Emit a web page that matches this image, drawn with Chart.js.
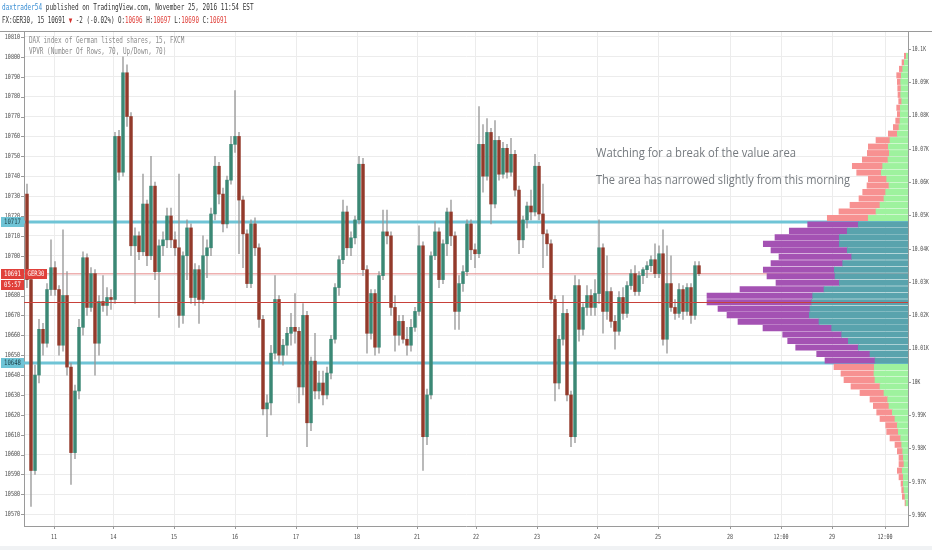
<!DOCTYPE html>
<html>
<head>
<meta charset="utf-8">
<script src="https://cdn.jsdelivr.net/npm/chart.js@4.4.0/dist/chart.umd.min.js"></script>
<style>
  html, body { margin: 0; padding: 0; background: #fff; }
  canvas { display: block; }
</style>
</head>
<body>
<canvas id="chart" width="932" height="550"></canvas>
<script>
// GER30 15m candles (one bar per ~hour slot)
const opens = [10731,10688,10592,10640,10663,10656,10683,10694,10683,10655,10680,10644,10601,10632,10664,10699,10674,10691,10656,10677,
  10675,10679,10678,10760,10742,10792,10770,10705,10710,10702,10726,10700,10735,10692,10705,10708,10720,10708,10704,10670,
  10700,10714,10679,10693,10678,10700,10704,10721,10745,10731,10716,10738,10756,10760,10728,10711,10686,10716,10704,10668,
  10623,10626,10651,10678,10650,10655,10661,10664,10662,10634,10670,10616,10647,10632,10636,10630,10641,10658,10684,10698,
  10722,10704,10709,10718,10746,10693,10661,10681,10654,10690,10712,10710,10674,10660,10667,10658,10655,10664,10672,10705,
  10609,10630,10700,10712,10688,10706,10722,10710,10672,10686,10692,10716,10703,10701,10756,10740,10762,10726,10758,10741,
  10754,10742,10751,10733,10708,10718,10725,10722,10745,10721,10711,10706,10678,10636,10658,10671,10630,10609,10685,10663,
  10674,10680,10674,10681,10704,10672,10682,10667,10662,10679,10671,10685,10691,10682,10690,10693,10695,10698,10691,10701,
  10658,10686,10674,10671,10683,10672,10684,10670,10695];
const highs = [10736,10690,10645,10668,10666,10686,10708,10697,10685,10713,10692,10646,10635,10668,10702,10701,10694,10693,10680,10690,
  10684,10683,10762,10763,10800,10796,10772,10714,10712,10741,10728,10750,10737,10708,10712,10724,10724,10712,10741,10702,
  10718,10716,10696,10695,10710,10708,10724,10750,10747,10734,10740,10760,10783,10762,10730,10713,10718,10719,10706,10670,
  10630,10655,10690,10680,10658,10664,10671,10681,10664,10676,10672,10649,10661,10642,10642,10644,10660,10686,10700,10728,
  10725,10712,10720,10750,10749,10695,10683,10683,10692,10723,10723,10712,10680,10670,10670,10664,10668,10674,10715,10707,
  10633,10702,10717,10714,10708,10724,10728,10712,10690,10695,10718,10718,10706,10775,10766,10769,10764,10768,10760,10757,
  10756,10759,10753,10735,10720,10727,10733,10751,10747,10736,10713,10708,10680,10660,10680,10673,10632,10690,10688,10676,
  10685,10683,10688,10718,10706,10700,10684,10670,10682,10684,10687,10693,10695,10692,10694,10697,10700,10706,10705,10713,
  10705,10700,10678,10686,10685,10686,10686,10697,10697];
const lows = [10684,10574,10590,10636,10650,10654,10680,10680,10650,10652,10640,10585,10598,10628,10660,10670,10672,10640,10650,10672,
  10670,10673,10676,10738,10740,10765,10700,10676,10698,10700,10695,10698,10688,10669,10700,10704,10704,10700,10664,10666,
  10688,10676,10675,10666,10676,10689,10700,10718,10726,10712,10714,10736,10752,10701,10694,10684,10684,10700,10664,10620,
  10609,10620,10648,10646,10645,10650,10655,10656,10626,10630,10604,10612,10628,10628,10625,10628,10638,10656,10680,10696,
  10700,10700,10706,10716,10690,10651,10658,10650,10651,10688,10706,10670,10652,10655,10656,10650,10652,10662,10670,10592,
  10605,10628,10698,10684,10686,10700,10705,10663,10663,10682,10690,10698,10694,10699,10732,10738,10716,10724,10738,10739,
  10739,10740,10730,10701,10704,10714,10718,10720,10718,10694,10700,10676,10627,10633,10655,10627,10604,10606,10657,10660,
  10670,10670,10670,10676,10661,10668,10664,10653,10660,10668,10669,10683,10680,10680,10686,10689,10692,10689,10689,10655,
  10651,10672,10668,10669,10668,10670,10666,10668,10690];
const closes = [10688,10592,10640,10663,10656,10683,10694,10683,10655,10680,10644,10601,10632,10664,10699,10674,10691,10656,10677,10675,
  10679,10678,10760,10742,10792,10770,10705,10710,10702,10726,10700,10735,10692,10705,10708,10720,10708,10704,10670,10700,
  10714,10679,10693,10678,10700,10704,10721,10745,10731,10716,10738,10756,10760,10728,10711,10686,10716,10704,10668,10623,
  10626,10651,10678,10650,10655,10661,10664,10662,10634,10670,10616,10647,10632,10636,10630,10641,10658,10684,10698,10722,
  10704,10709,10718,10746,10693,10661,10681,10654,10690,10712,10710,10674,10660,10667,10658,10655,10664,10672,10705,10609,
  10630,10700,10712,10688,10706,10722,10710,10672,10686,10692,10716,10703,10701,10756,10740,10762,10726,10758,10741,10754,
  10742,10751,10733,10708,10718,10725,10722,10745,10721,10711,10706,10678,10636,10658,10671,10630,10609,10685,10663,10674,
  10680,10674,10681,10704,10672,10682,10667,10662,10679,10671,10685,10691,10682,10690,10693,10695,10698,10691,10701,10658,
  10686,10674,10671,10683,10672,10684,10670,10695,10691];

// Volume profile, 70 rows from top to bottom (up part / down part)
const upVol = [1.7,3.7,5.3,6.7,7.3,7.0,7.3,6.3,7.7,7.7, 8.0,9.0,10.7,18.0,19.7,18.7,20.0,25.3,26.7,21.3,
  19.0,22.3,24.0,28.0,32.0,39.7,49.7,60.7,68.7,68.7, 60.7,56.3,65.3,73.7,73.0,68.7,84.0,95.3,96.3,98.0,
  98.7,89.0,76.3,66.3,59.7,49.7,38.0,33.0,33.7,34.0, 33.0,28.0,24.0,20.3,19.0,15.7,13.0,10.7,9.7,7.3,
  6.3,5.3,4.7,4.0,5.7,4.7,4.7,4.0,3.0,2.0];
const downVol = [2.0,2.3,3.4,4.6,3.4,3.3,2.7,3.0,3.6,3.0, 4.3,5.7,9.0,14.0,20.0,22.0,25.7,30.4,24.6,18.4,
  22.0,23.0,25.0,30.0,37.0,41.0,50.6,58.0,64.3,76.0, 76.3,72.7,71.7,71.0,68.0,63.3,84.0,105.7,104.7,92.0,
  82.3,81.0,68.7,59.0,60.6,62.6,53.3,50.0,40.3,33.0, 31.0,29.0,24.0,17.7,15.7,15.6,15.0,11.6,11.6,10.7,
  6.7,5.4,4.3,5.0,5.0,4.3,2.3,2.3,2.7,1.0];
const profileHigh = 10802.1;
const profileLow = 10574.0;

// levels
const vaHigh = 10717;
const vaLow = 10646;
const pocPrice = 10676.5;
const lastPrice = 10691;

// axes
const priceTicks = [10570,10580,10590,10600,10610,10620,10630,10640,10650,10660,10670,10680,10690,
  10700,10710,10720,10730,10740,10750,10760,10770,10780,10790,10800,10810];
const rightTicks = [9960,9970,9980,9990,10000,10010,10020,10030,10040,10050,10060,10070,10080,10090,10100];
const dayTickPos = [6.75, 21.6, 36.75, 52, 67.25, 82.5, 97.5, 112.25, 127.5, 142.5, 157.75, 175.75, 188.5, 201.25, 214.5];
const dayTickLabels = ['11','14','15','16','17','18','21','22','23','24','25','28','12:00','29','12:00'];

const upColor = '#3b8875';
const downColor = '#933a2b';
const wickColor = 'rgba(150,150,150,0.8)';
const vaUp = '#59a3ad';
const vaDown = '#a452b3';
const outUp = '#9ef29e';
const outDown = '#f79191';
const vaLineColor = '#6fc4d6';
const pocColor = '#c8413a';
const lastLineColor = 'rgba(232,150,150,0.75)';
const gridColor = '#ececec';
const axisColor = '#9a9a9a';
const textRed = '#e0403a';

const rowStep = (profileHigh - profileLow) / upVol.length;
const rowPrices = upVol.map((v, k) => profileHigh - (k + 0.5) * rowStep);
const inVA = p => p >= vaLow && p <= vaHigh;

function drawText(ctx, parts, x, y, size, sx, align) {
  ctx.save();
  ctx.font = size + 'px "DejaVu Sans Mono", monospace';
  ctx.textBaseline = 'middle';
  ctx.textAlign = 'left';
  let w = 0;
  parts.forEach(p => { w += ctx.measureText(p[0]).width; });
  let x0 = x;
  if (align === 'right') x0 = x - w * sx;
  if (align === 'center') x0 = x - w * sx / 2;
  ctx.translate(x0, y);
  ctx.scale(sx, 1);
  let cx = 0;
  parts.forEach(p => {
    ctx.fillStyle = p[1];
    ctx.fillText(p[0], cx, 0);
    cx += ctx.measureText(p[0]).width;
  });
  ctx.restore();
}

function hLine(ctx, area, py, color, width) {
  ctx.save();
  ctx.strokeStyle = color;
  ctx.lineWidth = width;
  ctx.beginPath();
  ctx.moveTo(area.left, py);
  ctx.lineTo(area.right, py);
  ctx.stroke();
  ctx.restore();
}

function tag(ctx, x, yc, w, fill, text, color) {
  ctx.fillStyle = fill;
  ctx.fillRect(x, Math.round(yc) - 5, w, 10);
  drawText(ctx, [[text, color]], x + w / 2, Math.round(yc) + 0.5, 7.5, 0.75, 'center');
}

const overlay = {
  id: 'overlay',
  beforeDraw(chart) {
    const ctx = chart.ctx;
    ctx.save();
    ctx.fillStyle = '#fff';
    ctx.fillRect(0, 0, chart.width, chart.height);
    ctx.fillStyle = '#f0f2f4';
    ctx.fillRect(0, 546, chart.width, 4);
    ctx.restore();
  },
  beforeDatasetsDraw(chart) {
    const { ctx, chartArea, scales } = chart;
    hLine(ctx, chartArea, scales.y.getPixelForValue(lastPrice), lastLineColor, 1.5);
    hLine(ctx, chartArea, scales.y.getPixelForValue(vaHigh), vaLineColor, 3);
    hLine(ctx, chartArea, scales.y.getPixelForValue(vaLow), vaLineColor, 3);
  },
  afterDatasetsDraw(chart) {
    const { ctx, chartArea, scales } = chart;
    hLine(ctx, chartArea, Math.round(scales.y.getPixelForValue(pocPrice)) + 0.5, pocColor, 1);
  },
  afterDraw(chart) {
    const { ctx, chartArea: a, scales } = chart;
    const labelColor = '#4a4a4a';

    // frame top
    ctx.save();
    ctx.strokeStyle = axisColor;
    ctx.lineWidth = 1;
    ctx.beginPath();
    ctx.moveTo(0, a.top - 0.5);
    ctx.lineTo(chart.width, a.top - 0.5);
    ctx.stroke();

    // tick marks
    ctx.beginPath();
    scales.y.ticks.forEach(t => {
      const py = Math.round(scales.y.getPixelForValue(t.value)) + 0.5;
      ctx.moveTo(a.left - 3, py); ctx.lineTo(a.left, py);
    });
    scales.y2.ticks.forEach(t => {
      const py = Math.round(scales.y2.getPixelForValue(t.value)) + 0.5;
      ctx.moveTo(a.right, py); ctx.lineTo(a.right + 3, py);
    });
    scales.x.ticks.forEach(t => {
      const px = Math.round(scales.x.getPixelForValue(t.value)) + 0.5;
      ctx.moveTo(px, a.bottom); ctx.lineTo(px, a.bottom + 3);
    });
    ctx.stroke();
    ctx.restore();

    // axis labels
    scales.y.ticks.forEach(t => {
      drawText(ctx, [[String(t.value), labelColor]], a.left - 4, scales.y.getPixelForValue(t.value), 7, 0.72, 'right');
    });
    scales.y2.ticks.forEach(t => {
      const s = parseFloat((t.value / 1000).toFixed(2)) + 'K';
      drawText(ctx, [[s, labelColor]], a.right + 4, scales.y2.getPixelForValue(t.value), 7, 0.66, 'left');
    });
    scales.x.ticks.forEach((t, i) => {
      drawText(ctx, [[dayTickLabels[i], labelColor]], scales.x.getPixelForValue(t.value), a.bottom + 11, 7, 0.72, 'center');
    });

    // price tags on the left axis
    const yHi = scales.y.getPixelForValue(vaHigh);
    const yLo = scales.y.getPixelForValue(vaLow);
    const yLast = scales.y.getPixelForValue(lastPrice);
    tag(ctx, 1, yHi, 23, vaLineColor, '10717', '#1f3f46');
    tag(ctx, 1, yLo, 23, vaLineColor, '10648', '#1f3f46');
    tag(ctx, 1, yLast, 23, textRed, '10691', '#fff');
    tag(ctx, 25, yLast, 22, textRed, 'GER30', '#fff');
    tag(ctx, 1, yLast + 11, 23, textRed, '05:57', '#fff');

    // header
    drawText(ctx, [['daxtrader54', '#3b8fd4'], [' published on TradingView.com, November 25, 2016 11:54 EST', '#333']], 2, 7.5, 8, 0.757, 'left');
    drawText(ctx, [['FX:GER30, 15 10691 ', '#333'], ['\u25BC', '#d32f2a'], [' -2 (-0.02%) O:', '#333'], ['10696', textRed],
      [' H:', '#333'], ['10697', textRed], [' L:', '#333'], ['10690', textRed], [' C:', '#333'], ['10691', textRed]], 2, 20.5, 8, 0.73, 'left');

    // legend
    drawText(ctx, [['DAX index of German listed shares, 15, FXCM', '#8a8a8a']], 29, 41, 8, 0.75, 'left');
    drawText(ctx, [['VPVR (Number Of Rows, 70, Up/Down, 70)', '#8a8a8a']], 29, 51.5, 8, 0.75, 'left');

    // notes
    ctx.save();
    ctx.font = '12px "Open Sans", "Liberation Sans", sans-serif';
    ctx.fillStyle = '#74797e';
    ctx.textBaseline = 'middle';
    ctx.fillText('Watching for a break of the value area', 596, 154, 200);
    ctx.fillText('The area has narrowed slightly from this morning', 596, 181, 254);
    ctx.restore();
  }
};

const bodyData = opens.map((o, i) => ({ x: i, y: [o, closes[i]] }));
const wickData = lows.map((l, i) => ({ x: i, y: [l, highs[i]] }));
const upData = rowPrices.map((p, k) => ({ y: p, x: [0, upVol[k]] }));
const downData = rowPrices.map((p, k) => ({ y: p, x: [upVol[k], upVol[k] + downVol[k]] }));

const ctx = document.getElementById('chart').getContext('2d');
new Chart(ctx, {
  type: 'bar',
  data: {
    datasets: [
      {
        label: 'Body',
        data: bodyData,
        xAxisID: 'x', yAxisID: 'y',
        grouped: false,
        barThickness: 2.8,
        minBarLength: 1,
        backgroundColor: c => closes[c.dataIndex] >= opens[c.dataIndex] ? upColor : downColor,
        order: 1
      },
      {
        label: 'Wick',
        data: wickData,
        xAxisID: 'x', yAxisID: 'y',
        grouped: false,
        barThickness: 1,
        backgroundColor: wickColor,
        order: 2
      },
      {
        label: 'Up volume',
        indexAxis: 'y',
        data: upData,
        xAxisID: 'xv', yAxisID: 'y',
        grouped: false,
        barThickness: 5.4,
        backgroundColor: c => inVA(rowPrices[c.dataIndex]) ? vaUp : outUp,
        order: 3
      },
      {
        label: 'Down volume',
        indexAxis: 'y',
        data: downData,
        xAxisID: 'xv', yAxisID: 'y',
        grouped: false,
        barThickness: 5.4,
        backgroundColor: c => inVA(rowPrices[c.dataIndex]) ? vaDown : outDown,
        order: 4
      }
    ]
  },
  options: {
    responsive: false,
    animation: false,
    layout: { padding: { top: 32 } },
    plugins: {
      legend: { display: false },
      tooltip: { enabled: false }
    },
    scales: {
      x: {
        type: 'linear',
        position: 'bottom',
        min: -0.75,
        max: 220.25,
        offset: false,
        grid: { color: gridColor, offset: false, drawTicks: false },
        border: { color: axisColor },
        ticks: { display: false },
        afterBuildTicks: s => { s.ticks = dayTickPos.map(v => ({ value: v })); },
        afterFit: s => { s.height = 24; }
      },
      xv: {
        type: 'linear',
        display: false,
        min: 0,
        max: 884,
        reverse: true,
        offset: false,
        beginAtZero: false
      },
      y: {
        type: 'linear',
        position: 'left',
        min: 10564.1,
        max: 10812.5,
        offset: false,
        beginAtZero: false,
        grid: { color: gridColor, offset: false, drawTicks: false },
        border: { color: axisColor },
        ticks: { display: false },
        afterBuildTicks: s => { s.ticks = priceTicks.map(v => ({ value: v })); },
        afterFit: s => { s.width = 24; }
      },
      y2: {
        type: 'linear',
        position: 'right',
        min: 9956.7,
        max: 10105.1,
        offset: false,
        grid: { display: false, drawTicks: false },
        border: { color: axisColor },
        ticks: { display: false },
        afterBuildTicks: s => { s.ticks = rightTicks.map(v => ({ value: v })); },
        afterFit: s => { s.width = 24; }
      }
    }
  },
  plugins: [overlay]
});
</script>
</body>
</html>
